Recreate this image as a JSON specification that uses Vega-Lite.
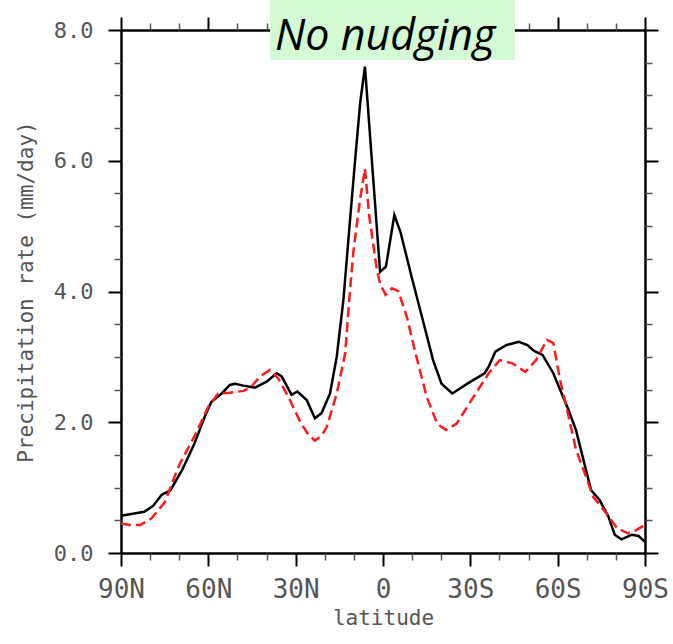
{
  "$schema": "https://vega.github.io/schema/vega-lite/v6.json",
  "width": 524,
  "height": 523,
  "autosize": {"type": "none"},
  "padding": {"left": 121, "top": 30, "right": 28, "bottom": 91},
  "background": "white",
  "config": {
    "view": {"stroke": null},
    "axis": {
      "grid": false,
      "domainColor": "#000000",
      "domainWidth": 2.5,
      "tickColor": "#000000",
      "tickWidth": 2,
      "labelColor": "#555555",
      "labelFont": "DejaVu Sans Mono",
      "titleFont": "DejaVu Sans Mono",
      "titleColor": "#555555",
      "titleFontWeight": "normal",
      "labelFlush": false,
      "labelOverlap": false
    }
  },
  "datasets": {
    "solid": [
      {"lat": 90, "precip": 0.57}, {"lat": 86, "precip": 0.6}, {"lat": 82, "precip": 0.63},
      {"lat": 79, "precip": 0.72}, {"lat": 76, "precip": 0.89}, {"lat": 73, "precip": 0.96},
      {"lat": 69, "precip": 1.27}, {"lat": 65, "precip": 1.65}, {"lat": 61, "precip": 2.11},
      {"lat": 59, "precip": 2.31}, {"lat": 55.4, "precip": 2.44}, {"lat": 52.6, "precip": 2.57},
      {"lat": 50.8, "precip": 2.59}, {"lat": 48, "precip": 2.56}, {"lat": 44, "precip": 2.53},
      {"lat": 40, "precip": 2.62}, {"lat": 36.5, "precip": 2.75}, {"lat": 34.8, "precip": 2.7},
      {"lat": 31.4, "precip": 2.42}, {"lat": 29.4, "precip": 2.47}, {"lat": 26.2, "precip": 2.34},
      {"lat": 23.4, "precip": 2.06}, {"lat": 21.1, "precip": 2.14}, {"lat": 18.2, "precip": 2.44},
      {"lat": 15.9, "precip": 3.0}, {"lat": 13.6, "precip": 3.87}, {"lat": 11.5, "precip": 5.0},
      {"lat": 9.4, "precip": 6.1}, {"lat": 7.8, "precip": 6.9}, {"lat": 6.2, "precip": 7.44},
      {"lat": 3.9, "precip": 6.05}, {"lat": 1.0, "precip": 4.3}, {"lat": -1.0, "precip": 4.38},
      {"lat": -3.9, "precip": 5.17}, {"lat": -6, "precip": 4.91}, {"lat": -9.8, "precip": 4.23},
      {"lat": -13.4, "precip": 3.61}, {"lat": -17.2, "precip": 2.95}, {"lat": -20.1, "precip": 2.59},
      {"lat": -23.8, "precip": 2.44}, {"lat": -29, "precip": 2.59}, {"lat": -34.9, "precip": 2.75},
      {"lat": -36.3, "precip": 2.85}, {"lat": -38.6, "precip": 3.08}, {"lat": -42.3, "precip": 3.18},
      {"lat": -46.7, "precip": 3.23}, {"lat": -49.6, "precip": 3.18}, {"lat": -51.9, "precip": 3.09},
      {"lat": -54.8, "precip": 3.03}, {"lat": -58.5, "precip": 2.75}, {"lat": -63.7, "precip": 2.19},
      {"lat": -66.3, "precip": 1.88}, {"lat": -69, "precip": 1.4}, {"lat": -71.5, "precip": 0.96},
      {"lat": -74.4, "precip": 0.81}, {"lat": -77.4, "precip": 0.56}, {"lat": -79.6, "precip": 0.28},
      {"lat": -81.9, "precip": 0.21}, {"lat": -85.5, "precip": 0.28}, {"lat": -87.8, "precip": 0.26},
      {"lat": -90, "precip": 0.17}
    ],
    "dashed": [
      {"lat": 90, "precip": 0.45}, {"lat": 87, "precip": 0.43}, {"lat": 83.3, "precip": 0.43},
      {"lat": 79.5, "precip": 0.53}, {"lat": 74.9, "precip": 0.78}, {"lat": 70.3, "precip": 1.32},
      {"lat": 67, "precip": 1.6}, {"lat": 64.6, "precip": 1.8}, {"lat": 60, "precip": 2.24},
      {"lat": 56.6, "precip": 2.44}, {"lat": 52.6, "precip": 2.45}, {"lat": 48, "precip": 2.48},
      {"lat": 45.7, "precip": 2.52}, {"lat": 42.3, "precip": 2.7}, {"lat": 38.8, "precip": 2.8},
      {"lat": 36, "precip": 2.67}, {"lat": 32.5, "precip": 2.39}, {"lat": 28.5, "precip": 2.01},
      {"lat": 25.5, "precip": 1.8}, {"lat": 23.4, "precip": 1.72}, {"lat": 21, "precip": 1.8},
      {"lat": 19.3, "precip": 1.93}, {"lat": 15.9, "precip": 2.44}, {"lat": 13, "precip": 3.05},
      {"lat": 11.6, "precip": 3.87}, {"lat": 10.2, "precip": 4.6}, {"lat": 7.9, "precip": 5.4},
      {"lat": 6.2, "precip": 5.88}, {"lat": 4.7, "precip": 5.14}, {"lat": 2.1, "precip": 4.33},
      {"lat": 1.0, "precip": 4.12}, {"lat": -0.9, "precip": 3.95}, {"lat": -3.1, "precip": 4.05},
      {"lat": -5.3, "precip": 4.0}, {"lat": -8.2, "precip": 3.61}, {"lat": -11.2, "precip": 3.05},
      {"lat": -15, "precip": 2.39}, {"lat": -18.6, "precip": 1.98}, {"lat": -21.6, "precip": 1.88},
      {"lat": -25.3, "precip": 1.98}, {"lat": -30.4, "precip": 2.34}, {"lat": -36.3, "precip": 2.75},
      {"lat": -40.1, "precip": 2.95}, {"lat": -44.5, "precip": 2.9}, {"lat": -48.9, "precip": 2.77},
      {"lat": -52.6, "precip": 2.95}, {"lat": -56.3, "precip": 3.26}, {"lat": -58.5, "precip": 3.21},
      {"lat": -60.8, "precip": 2.65}, {"lat": -63, "precip": 2.24}, {"lat": -66.3, "precip": 1.58},
      {"lat": -69.3, "precip": 1.22}, {"lat": -72.2, "precip": 0.86}, {"lat": -76.7, "precip": 0.61},
      {"lat": -80.4, "precip": 0.38}, {"lat": -84.1, "precip": 0.3}, {"lat": -87, "precip": 0.35},
      {"lat": -90, "precip": 0.43}
    ],
    "one": [{}]
  },
  "resolve": {"axis": {"x": "independent", "y": "independent"}},
  "layer": [
    {
      "data": {"name": "solid"},
      "mark": {"type": "line", "color": "#000000", "strokeWidth": 2.5, "clip": true},
      "encoding": {
        "x": {
          "field": "lat", "type": "quantitative",
          "scale": {"domain": [-90, 90], "reverse": true, "nice": false, "zero": false},
          "axis": {
            "orient": "bottom", "values": [90, 60, 30, 0, -30, -60, -90],
            "tickSize": 13, "labelPadding": 10, "labelFontSize": 26,
            "labelExpr": "datum.value > 0 ? datum.value + 'N' : (datum.value < 0 ? (-datum.value) + 'S' : '0')",
            "title": "latitude", "titleFontSize": 21, "titlePadding": 5
          }
        },
        "y": {
          "field": "precip", "type": "quantitative",
          "scale": {"domain": [0, 8], "nice": false},
          "axis": {
            "orient": "left", "values": [0, 2, 4, 6, 8], "format": ".1f",
            "tickSize": 13, "labelPadding": 15, "labelFontSize": 22,
            "title": "Precipitation rate  (mm/day)", "titleFontSize": 21, "titlePadding": 17
          }
        }
      }
    },
    {
      "data": {"name": "dashed"},
      "mark": {"type": "line", "color": "#ff1a1a", "strokeWidth": 2.5, "strokeDash": [10, 5], "clip": true},
      "encoding": {
        "x": {
          "field": "lat", "type": "quantitative",
          "axis": {
            "orient": "bottom", "values": [80, 70, 50, 40, 20, 10, -10, -20, -40, -50, -70, -80],
            "tickSize": 7, "tickWidth": 1.5, "tickColor": "#555555", "labels": false, "domain": false, "title": null
          }
        },
        "y": {
          "field": "precip", "type": "quantitative",
          "axis": {
            "orient": "left", "values": [0.5, 1, 1.5, 2.5, 3, 3.5, 4.5, 5, 5.5, 6.5, 7, 7.5],
            "tickSize": 7, "tickWidth": 1.5, "tickColor": "#555555", "labels": false, "domain": false, "title": null
          }
        }
      }
    },
    {
      "data": {"name": "solid"},
      "mark": {"type": "line", "opacity": 0},
      "encoding": {
        "x": {
          "field": "lat", "type": "quantitative",
          "axis": {"orient": "top", "values": [90, 60, 30, 0, -30, -60, -90], "tickSize": 13, "labels": false, "title": null}
        },
        "y": {
          "field": "precip", "type": "quantitative",
          "axis": {"orient": "right", "values": [0, 2, 4, 6, 8], "tickSize": 13, "labels": false, "title": null}
        }
      }
    },
    {
      "data": {"name": "dashed"},
      "mark": {"type": "line", "opacity": 0},
      "encoding": {
        "x": {
          "field": "lat", "type": "quantitative",
          "axis": {
            "orient": "top", "values": [80, 70, 50, 40, 20, 10, -10, -20, -40, -50, -70, -80],
            "tickSize": 7, "tickWidth": 1.5, "tickColor": "#555555", "labels": false, "domain": false, "title": null
          }
        },
        "y": {
          "field": "precip", "type": "quantitative",
          "axis": {
            "orient": "right", "values": [0.5, 1, 1.5, 2.5, 3, 3.5, 4.5, 5, 5.5, 6.5, 7, 7.5],
            "tickSize": 7, "tickWidth": 1.5, "tickColor": "#555555", "labels": false, "domain": false, "title": null
          }
        }
      }
    },
    {
      "data": {"name": "one"},
      "mark": {"type": "rect", "color": "#d4fad4", "clip": false},
      "encoding": {
        "x": {"datum": 38.8, "type": "quantitative", "axis": null},
        "x2": {"datum": -45.3},
        "y": {"datum": 8.46, "type": "quantitative", "axis": null},
        "y2": {"datum": 7.54}
      }
    },
    {
      "data": {"name": "one"},
      "mark": {
        "type": "text", "text": "No nudging", "font": "Open Sans", "fontStyle": "italic",
        "fontSize": 43, "color": "#000000", "align": "left", "baseline": "alphabetic", "clip": false
      },
      "encoding": {
        "x": {"datum": 37.1, "type": "quantitative", "axis": null},
        "y": {"datum": 7.69, "type": "quantitative", "axis": null}
      }
    }
  ]
}
